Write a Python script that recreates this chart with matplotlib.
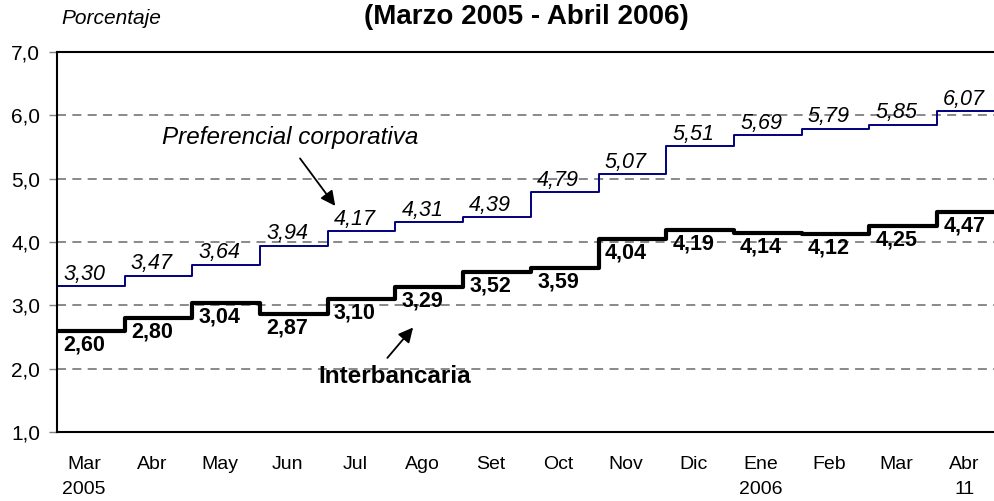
import numpy as np
import matplotlib
matplotlib.use("Agg")
import matplotlib.pyplot as plt

plt.rcParams['font.family'] = ['Liberation Sans', 'DejaVu Sans']

# Datos (promedio mensual, %)
meses = ["Mar\n2005", "Abr", "May", "Jun", "Jul", "Ago", "Set", "Oct",
         "Nov", "Dic", "Ene\n2006", "Feb", "Mar", "Abr\n11"]
preferencial = [3.30, 3.47, 3.64, 3.94, 4.17, 4.31, 4.39, 4.79,
                5.07, 5.51, 5.69, 5.79, 5.85, 6.07]
interbancaria = [2.60, 2.80, 3.04, 2.87, 3.10, 3.29, 3.52, 3.59,
                 4.04, 4.19, 4.14, 4.12, 4.25, 4.47]

n = len(meses)
x = np.arange(n + 1)
fin = n - 0.16

fig = plt.figure(figsize=(9.94, 5.01), dpi=100)
ax = fig.add_axes([0.0573, 0.1377, 0.9427, 0.7585])

ax.step(x, preferencial + [preferencial[-1]], where="post", color="#000080", lw=1.4)
ax.step(x, interbancaria + [interbancaria[-1]], where="post", color="black", lw=3)

for i in range(n):
    ax.annotate(f"{preferencial[i]:.2f}".replace(".", ","), (i + 0.4, preferencial[i]),
                xytext=(0, 1), textcoords="offset points",
                ha="center", va="bottom", fontsize=15.5, style="italic")
    ax.annotate(f"{interbancaria[i]:.2f}".replace(".", ","), (i + 0.4, interbancaria[i]),
                xytext=(0, -2.5), textcoords="offset points",
                ha="center", va="top", fontsize=15.5, fontweight="bold")

# flechas y rotulos de series
ax.annotate("", xy=(4.11, 4.57), xytext=(3.59, 5.32),
            arrowprops=dict(arrowstyle="-|>", color="black", lw=1.3,
                            mutation_scale=22, shrinkA=0, shrinkB=0))
ax.text(3.44, 5.65, "Preferencial corporativa", ha="center", va="center",
        fontsize=17.5, style="italic")
ax.annotate("", xy=(5.26, 2.65), xytext=(4.88, 2.17),
            arrowprops=dict(arrowstyle="-|>", color="black", lw=1.3,
                            mutation_scale=22, shrinkA=0, shrinkB=0))
ax.text(4.99, 1.87, "Interbancaria", ha="center", va="center",
        fontsize=17.5, fontweight="bold")

ax.set_xlim(0, fin)
ax.set_ylim(1, 7)
ax.set_yticks(range(1, 8))
ax.set_yticklabels([f"{v},0" for v in range(1, 8)], fontsize=15)
ax.set_xticks(np.arange(n) + 0.4)
ax.set_xticklabels(meses, fontsize=14, linespacing=1.65, va="top")
ax.tick_params(axis="x", length=0, pad=17)
ax.tick_params(axis="y", length=6, width=1, color="#808080", pad=6)

for v in range(2, 7):
    ax.axhline(v, color="#808080", lw=1.3, ls=(0, (5, 3.5)), zorder=0)

ax.spines["right"].set_visible(False)
for s in ["left", "top", "bottom"]:
    ax.spines[s].set_linewidth(1.5)

fig.text(0.062, 0.963, "Porcentaje", fontsize=15, style="italic", va="center")
fig.text(0.53, 0.966, "(Marzo 2005 - Abril 2006)", fontsize=20, fontweight="bold",
         ha="center", va="center")

fig.savefig("out.png", dpi=100)
